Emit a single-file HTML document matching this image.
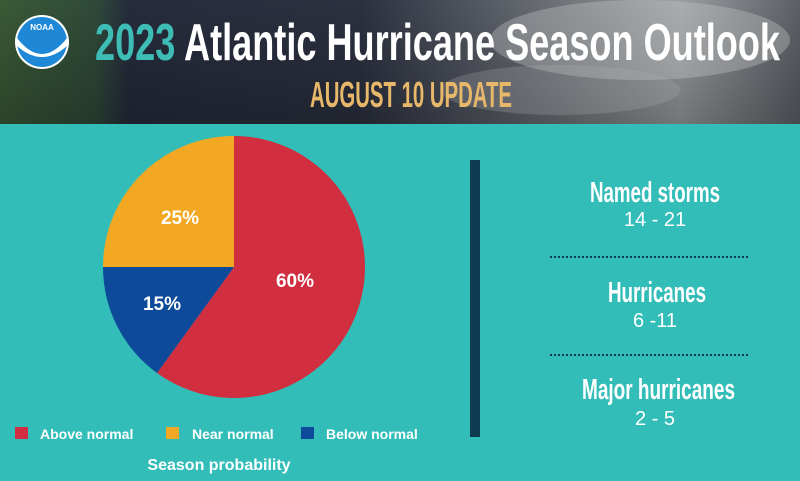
<!DOCTYPE html>
<html><head><style>
html,body{margin:0;padding:0;width:800px;height:481px;overflow:hidden;background:#33bdb8;}
</style></head><body>
<svg width="800" height="481" xmlns="http://www.w3.org/2000/svg" font-family="Liberation Sans, sans-serif">
<defs>
<linearGradient id="hdr" x1="0" y1="0" x2="1" y2="0">
<stop offset="0" stop-color="#3a5a35"/>
<stop offset="0.12" stop-color="#2f4a3a"/>
<stop offset="0.16" stop-color="#262c3c"/>
<stop offset="0.45" stop-color="#2c3140"/>
<stop offset="0.7" stop-color="#6f7378"/>
<stop offset="0.85" stop-color="#9a9da0"/>
<stop offset="1" stop-color="#5c6066"/>
</linearGradient>
<linearGradient id="hdr2" x1="0" y1="0" x2="0" y2="1">
<stop offset="0" stop-color="#000" stop-opacity="0"/>
<stop offset="1" stop-color="#000" stop-opacity="0.25"/>
</linearGradient>
</defs>
<rect x="0" y="0" width="800" height="124" fill="url(#hdr)"/>
<rect x="0" y="0" width="800" height="124" fill="url(#hdr2)"/>
<ellipse cx="640" cy="40" rx="150" ry="40" fill="#c8cacc" opacity="0.35"/>
<ellipse cx="560" cy="90" rx="120" ry="25" fill="#b0b3b6" opacity="0.25"/>
<rect x="0" y="124" width="800" height="357" fill="#33bdb8"/>
<circle cx="42" cy="42" r="27" fill="#fff"/>
<circle cx="42" cy="42" r="25" fill="#1e88d6"/>
<path d="M17,38 Q42,70 67,38 L67,46 Q42,68 17,46 Z" fill="#fff"/>
<text x="42" y="30" font-size="8" font-weight="bold" fill="#fff" text-anchor="middle">NOAA</text>
<text x="95" y="60" font-family="Liberation Sans Narrow, Liberation Sans, sans-serif" font-weight="bold" font-size="52" textLength="685" lengthAdjust="spacingAndGlyphs" fill="#fff"><tspan fill="#3dbdb5">2023</tspan> Atlantic Hurricane Season Outlook</text>
<text x="310" y="107" font-family="Liberation Sans Narrow, Liberation Sans, sans-serif" font-weight="bold" font-size="36" textLength="202" lengthAdjust="spacingAndGlyphs" fill="#e8b86a">AUGUST 10 UPDATE</text>
<path d="M234,267 L234,136 A131,131 0 1 1 157,373 Z" fill="#d12e3f"/>
<path d="M234,267 L157,373 A131,131 0 0 1 103,267 Z" fill="#0d4a9a"/>
<path d="M234,267 L103,267 A131,131 0 0 1 234,136 Z" fill="#f3a823"/>
<text x="295" y="287" font-size="19" font-weight="bold" fill="#fff" text-anchor="middle">60%</text>
<text x="180" y="224" font-size="19" font-weight="bold" fill="#fff" text-anchor="middle">25%</text>
<text x="162" y="310" font-size="19" font-weight="bold" fill="#fff" text-anchor="middle">15%</text>
<rect x="15" y="427" width="13" height="12" fill="#d12e3f"/>
<text x="40" y="439" font-size="14" font-weight="bold" fill="#fff">Above normal</text>
<rect x="166" y="427" width="13" height="12" fill="#f3a823"/>
<text x="192" y="439" font-size="14" font-weight="bold" fill="#fff">Near normal</text>
<rect x="301" y="427" width="13" height="12" fill="#0d4a9a"/>
<text x="326" y="439" font-size="14" font-weight="bold" fill="#fff">Below normal</text>
<text x="219" y="470" font-size="16" font-weight="bold" fill="#fff" text-anchor="middle">Season probability</text>
<rect x="470" y="160" width="10" height="277" fill="#0d3b4f"/>
<g fill="#fff" font-weight="bold" font-size="29">
<text x="590" y="202" textLength="130" lengthAdjust="spacingAndGlyphs">Named storms</text>
<text x="608" y="302" textLength="98" lengthAdjust="spacingAndGlyphs">Hurricanes</text>
<text x="582" y="399" textLength="153" lengthAdjust="spacingAndGlyphs">Major hurricanes</text>
</g>
<g fill="#fff" text-anchor="middle" font-size="20">
<text x="655" y="226">14 - 21</text>
<text x="655" y="327">6 -11</text>
<text x="655" y="425">2 - 5</text>
</g>
<line x1="550" y1="257" x2="750" y2="257" stroke="#0d3b4f" stroke-width="2" stroke-dasharray="2,2"/>
<line x1="550" y1="355" x2="750" y2="355" stroke="#0d3b4f" stroke-width="2" stroke-dasharray="2,2"/>
</svg>
</body></html>
